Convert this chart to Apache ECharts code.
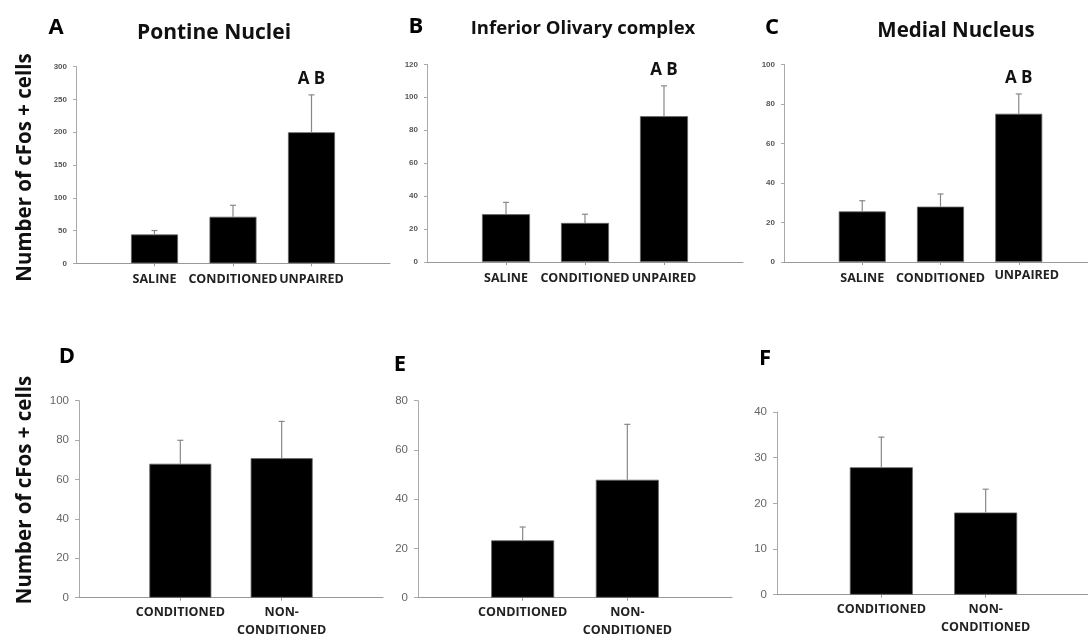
<!DOCTYPE html>
<html>
<head>
<meta charset="utf-8">
<script src="https://cdn.jsdelivr.net/npm/echarts@6/dist/echarts.min.js"></script>
<style>
html,body{margin:0;padding:0;background:#fff;}
#chart{width:1088px;height:636px;}
</style>
</head>
<body>
<div id="chart"></div>
<script>
// ---- data ----
var catsTop = ['', 'SALINE', 'CONDITIONED', 'UNPAIRED', ''];
var catsBottom = ['', 'CONDITIONED', 'NON-\nCONDITIONED', ''];

var meanA = [44, 71, 200];   var semA = [6, 17.5, 57];
var meanB = [29, 23.7, 88.5]; var semB = [7.2, 5.3, 18.4];
var meanC = [25.6, 28, 75];  var semC = [5.4, 6.4, 10];
var meanD = [68, 70.8];      var semD = [11.9, 18.7];
var meanE = [23.3, 47.9];    var semE = [5.4, 22.5];
var meanF = [27.9, 18];      var semF = [6.6, 5.1];

var sigTop = ['', '', 'A B'];
var sigBottom = ['', ''];

var yMaxTop = [300, 120, 100];
var yStepTop = [50, 20, 20];
var yMaxBottom = [100, 80, 40];
var yStepBottom = [20, 20, 10];

var panelLetters = ['A', 'B', 'C', 'D', 'E', 'F'];
var panelTitles = ['Pontine Nuclei', 'Inferior Olivary complex', 'Medial Nucleus'];
var yTitle = 'Number of cFos + cells';

// ---- layout ----
var FONT = '"Open Sans", "Noto Sans", sans-serif';
var grids = [
  {left: 76, top: 66.7, width: 314, height: 196.6},
  {left: 427, top: 64.3, width: 316, height: 197.7},
  {left: 784, top: 64.3, width: 313, height: 197.7},
  {left: 79, top: 400.7, width: 304, height: 197},
  {left: 418, top: 400.7, width: 314, height: 197},
  {left: 777, top: 412, width: 313, height: 182.7}
].map(function (g) { g.outerBoundsMode = 'none'; g.containLabel = false; return g; });
var panels = [
  {cats: catsTop, mean: meanA, sem: semA, sig: sigTop, max: yMaxTop[0], step: yStepTop[0], bw: 47, top: true},
  {cats: catsTop, mean: meanB, sem: semB, sig: sigTop, max: yMaxTop[1], step: yStepTop[1], bw: 48, top: true},
  {cats: catsTop, mean: meanC, sem: semC, sig: sigTop, max: yMaxTop[2], step: yStepTop[2], bw: 47, top: true, shiftLast: true},
  {cats: catsBottom, mean: meanD, sem: semD, sig: sigBottom, max: yMaxBottom[0], step: yStepBottom[0], bw: 62, top: false},
  {cats: catsBottom, mean: meanE, sem: semE, sig: sigBottom, max: yMaxBottom[1], step: yStepBottom[1], bw: 63, top: false},
  {cats: catsBottom, mean: meanF, sem: semF, sig: sigBottom, max: yMaxBottom[2], step: yStepBottom[2], bw: 63, top: false}
];

var xAxes = [], yAxes = [], series = [];
panels.forEach(function (p, i) {
  var lastCat = p.cats[p.cats.length - 2];
  xAxes.push({
    gridIndex: i, type: 'category', data: p.cats, boundaryGap: false,
    axisLine: {lineStyle: {color: '#999', width: 1}},
    axisTick: {show: true, length: 3, lineStyle: {color: '#999'},
      interval: function (idx, val) { return val !== ''; }},
    axisLabel: {interval: 0, margin: p.top ? 7 : 6, color: '#222', fontFamily: FONT, fontWeight: 'bold',
      fontSize: 12.5, lineHeight: 18,
      formatter: function (v) { return (p.shiftLast && v === lastCat) ? '{s|' + v + '}' : v; },
      rich: {s: {fontFamily: FONT, fontWeight: 'bold', fontSize: 12.5, color: '#222', padding: [0, 0, 5, 16]}}
    }
  });
  yAxes.push({
    gridIndex: i, type: 'value', min: 0, max: p.max, interval: p.step,
    splitLine: {show: false},
    axisLine: {show: true, lineStyle: {color: '#aaa', width: 1}},
    axisTick: {show: true, length: p.top ? 3 : 4, lineStyle: {color: '#aaa'}},
    axisLabel: p.top
      ? {margin: 9, color: '#555', fontFamily: 'Arial, "Liberation Sans", sans-serif', fontWeight: 'bold', fontSize: 8}
      : {margin: 10, color: '#666', fontFamily: 'Arial, "Liberation Sans", sans-serif', fontSize: 11.5}
  });
  series.push({
    type: 'bar', xAxisIndex: i, yAxisIndex: i, barWidth: p.bw,
    itemStyle: {color: '#000', borderColor: '#666', borderWidth: 0.8},
    data: p.mean.map(function (v, k) { return [k + 1, v]; }),
    silent: true, z: 2
  });
  series.push({
    type: 'custom', xAxisIndex: i, yAxisIndex: i, z: 3, silent: true,
    encode: {x: 0, y: [1, 2]},
    data: p.mean.map(function (v, k) { return [k + 1, v, v + p.sem[k]]; }),
    renderItem: function (params, api) {
      var x = api.value(0);
      var a = api.coord([x, api.value(1)]);
      var b = api.coord([x, api.value(2)]);
      var label = p.sig[params.dataIndex];
      var children = [
        {type: 'line', shape: {x1: a[0], y1: a[1], x2: b[0], y2: b[1]}, style: {stroke: '#888', lineWidth: 1.2}},
        {type: 'line', shape: {x1: b[0] - 3, y1: b[1], x2: b[0] + 3, y2: b[1]}, style: {stroke: '#888', lineWidth: 1.2}}
      ];
      if (label) {
        children.push({type: 'text', x: b[0], y: b[1] - 16,
          style: {text: label, fill: '#111', font: 'bold 17px ' + FONT, align: 'center', verticalAlign: 'middle'}});
      }
      return {type: 'group', children: children};
    }
  });
});

var letterPos = [[56, 28], [416, 27], [772, 28], [67, 357], [400, 365], [765, 359]];
var titlePos = [[214, 33], [583, 29], [956, 31]];
var titleSize = [21, 18.5, 20.5];
var graphics = [];
panelLetters.forEach(function (t, i) {
  graphics.push({type: 'text', x: letterPos[i][0], y: letterPos[i][1],
    style: {text: t, fill: '#000', font: 'bold 22px ' + FONT, align: 'center', verticalAlign: 'middle'}});
});
panelTitles.forEach(function (t, i) {
  graphics.push({type: 'text', x: titlePos[i][0], y: titlePos[i][1],
    style: {text: t, fill: '#111', font: 'bold ' + titleSize[i] + 'px ' + FONT, align: 'center', verticalAlign: 'middle'}});
});
[[25, 167.5], [25, 490]].forEach(function (pos) {
  graphics.push({type: 'text', x: pos[0], y: pos[1], rotation: Math.PI / 2,
    style: {text: yTitle, fill: '#111', font: 'bold 20.5px ' + FONT, align: 'center', verticalAlign: 'middle'}});
});

var chart = echarts.init(document.getElementById('chart'), null, {renderer: 'canvas'});
chart.setOption({
  backgroundColor: '#fff',
  animation: false,
  grid: grids,
  xAxis: xAxes,
  yAxis: yAxes,
  series: series,
  graphic: graphics
});
</script>
</body>
</html>
